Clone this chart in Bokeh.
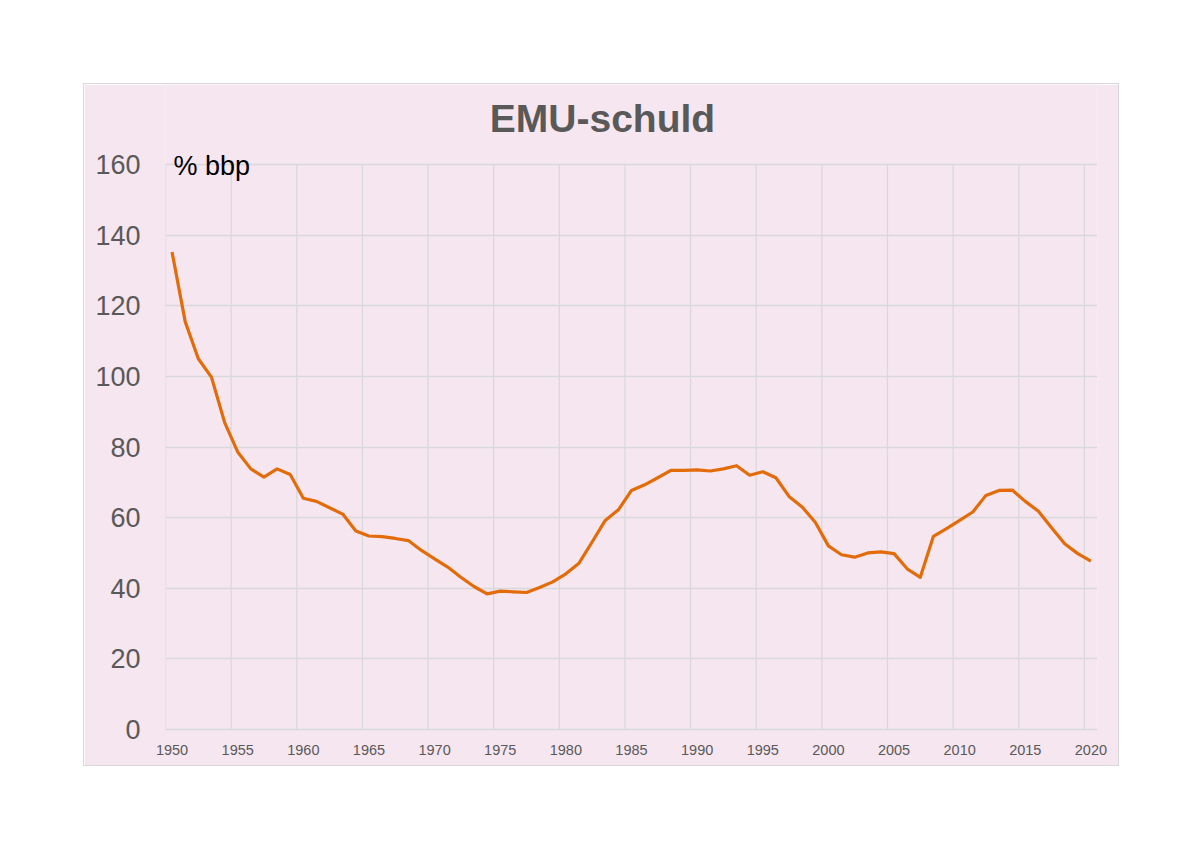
from bokeh.plotting import figure
from bokeh.models import FixedTicker, Label, Range1d
from bokeh.embed import file_html
from bokeh.resources import INLINE

years = list(range(1950, 2021))
emu_debt = [
    135.2, 115.5, 105.0, 99.8, 87.0, 78.6, 73.8, 71.5, 73.8, 72.2,
    65.5, 64.6, 62.8, 61.0, 56.2, 54.8, 54.6, 54.1, 53.5, 50.7,
    48.3, 46.0, 43.1, 40.5, 38.4, 39.2, 39.0, 38.8, 40.2, 41.8,
    44.1, 47.1, 53.1, 59.2, 62.2, 67.7, 69.3, 71.3, 73.4, 73.4,
    73.5, 73.2, 73.8, 74.7, 72.0, 73.0, 71.3, 66.0, 63.0, 58.7,
    52.0, 49.5, 48.8, 50.0, 50.3, 49.8, 45.5, 43.1, 54.7, 56.9,
    59.2, 61.6, 66.3, 67.7, 67.8, 64.6, 61.8, 57.1, 52.6, 49.8,
    47.7,
]
x_tick_years = list(range(1950, 2021, 5))
y_ticks = list(range(0, 161, 20))
title_text = "EMU-schuld"
unit_text = "% bbp"

PINK = "#F6E6F0"
GRID = "#D9D9D9"
GRAY = "#595959"
ORANGE = "#E36C0A"
FONT = "Liberation Sans"

# canvas / layout (pixels)
W, H = 1036, 683
B_LEFT, B_RIGHT, B_TOP, B_BOTTOM = 81, 23, 0, 38
TOP_GAP = 80          # distance from canvas top to the 160 gridline
y_max = max(y_ticks)
frame_h = H - B_TOP - B_BOTTOM
px_per_unit = (frame_h - TOP_GAP) / y_max
y_end = frame_h / px_per_unit

x_start, x_end = years[0] - 0.5, years[-1] + 0.5
frame_w = W - B_LEFT - B_RIGHT
px_per_year = frame_w / (x_end - x_start)

p = figure(
    width=W, height=H,
    output_backend="svg", toolbar_location=None,
    x_range=Range1d(x_start, x_end),
    y_range=Range1d(0, y_end),
    min_border_left=B_LEFT, min_border_right=B_RIGHT,
    min_border_top=B_TOP, min_border_bottom=B_BOTTOM,
    margin=(83, 0, 0, 83),
    styles={"border": "1px solid #D9D9D9"},
)
p.background_fill_color = PINK
p.border_fill_color = PINK
p.outline_line_color = None

# grids: horizontal through the y ticks, vertical between year groups (0..160 only)
p.xgrid.grid_line_color = None
p.ygrid.ticker = FixedTicker(ticks=y_ticks)
p.ygrid.grid_line_color = GRID
p.ygrid.grid_line_width = 1.3
grid_x = [y - 0.5 for y in x_tick_years]
p.segment(x0=grid_x, y0=[0] * len(grid_x), x1=grid_x, y1=[y_max] * len(grid_x),
          line_color=GRID, line_width=1.3, level="underlay")

# x axis
p.xaxis.ticker = FixedTicker(ticks=x_tick_years)
p.xaxis.axis_line_color = GRID
p.xaxis.axis_line_width = 1.3
p.xaxis.major_tick_line_color = None
p.xaxis.minor_tick_line_color = None
p.xaxis.major_label_text_font = FONT
p.xaxis.major_label_text_font_size = "14.5px"
p.xaxis.major_label_text_color = GRAY
p.xaxis.major_label_standoff = 9

# y axis
p.yaxis.ticker = FixedTicker(ticks=y_ticks)
p.yaxis.axis_line_color = None
p.yaxis.major_tick_line_color = None
p.yaxis.minor_tick_line_color = None
p.yaxis.major_label_text_font = FONT
p.yaxis.major_label_text_font_size = "27px"
p.yaxis.major_label_text_color = GRAY
p.yaxis.major_label_standoff = 19

p.line(years, emu_debt, line_color=ORANGE, line_width=3.2, line_join="round")

# title (centred on the chart box) and unit label
p.add_layout(Label(
    x=x_start + (W / 2 - B_LEFT) / px_per_year, y=y_max + 46 / px_per_unit,
    text=title_text, text_font=FONT, text_font_size="39px",
    text_font_style="bold", text_color=GRAY,
    text_align="center", text_baseline="alphabetic",
))
p.add_layout(Label(
    x=x_start + 8 / px_per_year, y=y_max - 1 / px_per_unit,
    text=unit_text, text_font=FONT, text_font_size="27px", text_color="#000000",
    text_align="left", text_baseline="alphabetic",
))

open("out.html", "w").write(file_html(p, INLINE))
